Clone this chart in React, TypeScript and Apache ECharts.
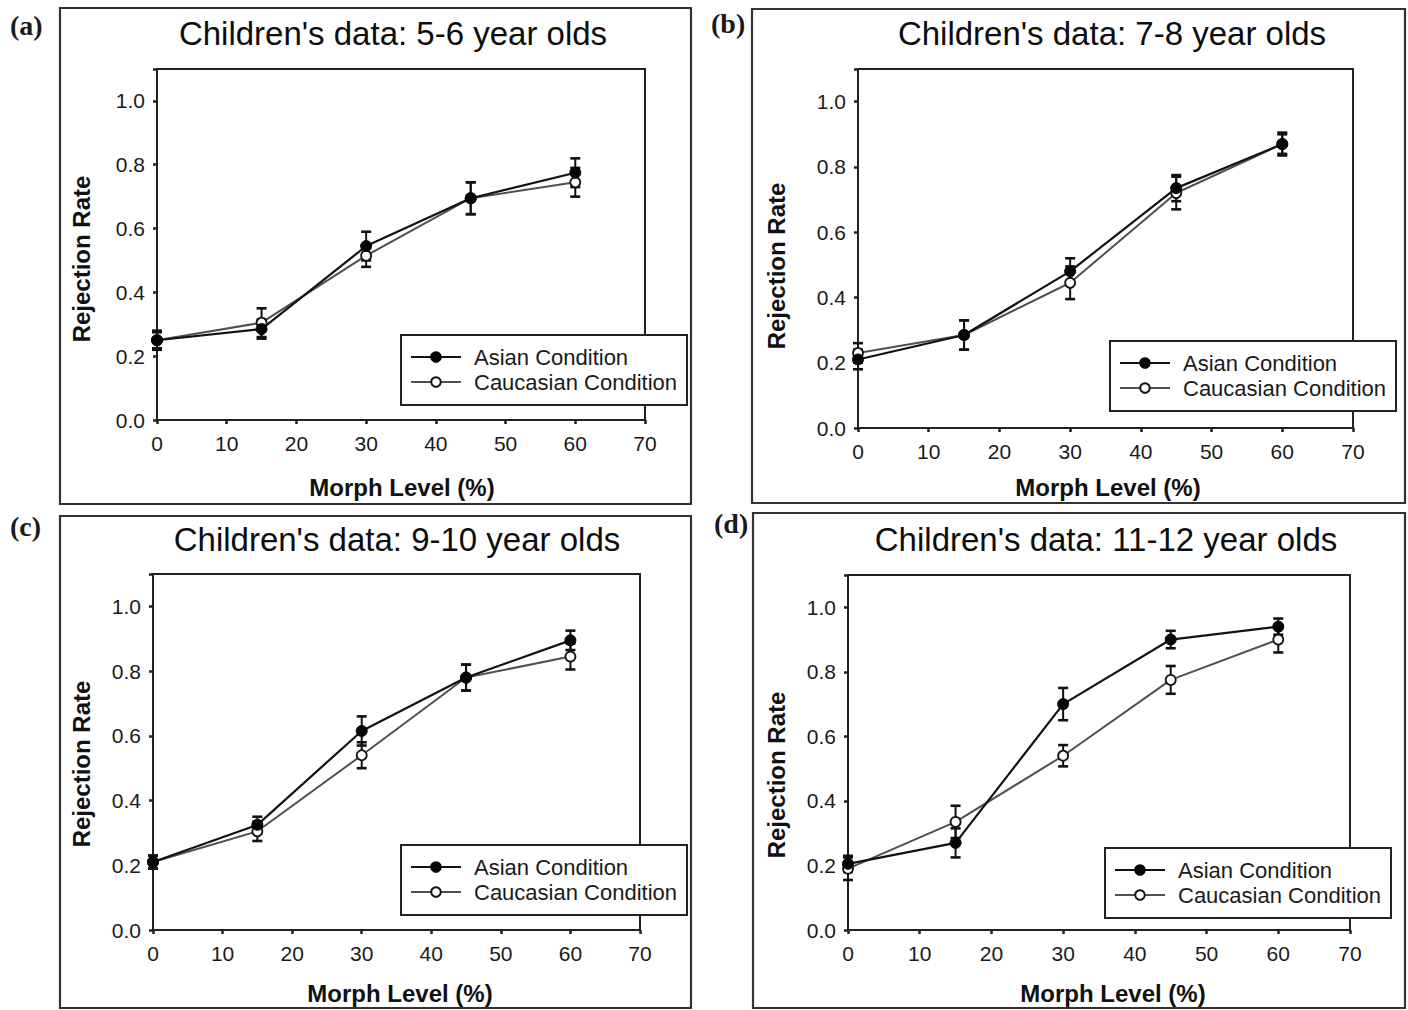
import React, { useEffect, useRef } from "react";
import * as echarts from "echarts";

// ---------- data ----------
const MORPH_LEVELS = [0, 15, 30, 45, 60];
const X_TICKS = [0, 10, 20, 30, 40, 50, 60, 70];
const Y_TICKS = [0.0, 0.2, 0.4, 0.6, 0.8, 1.0];

const TITLES = [
  "Children's data: 5-6 year olds",
  "Children's data: 7-8 year olds",
  "Children's data: 9-10 year olds",
  "Children's data: 11-12 year olds",
];
const PANEL_LABELS = ["(a)", "(b)", "(c)", "(d)"];
const SERIES_NAMES = ["Asian Condition", "Caucasian Condition"];

// (a) 5-6 year olds
const A_ASIAN = [0.25, 0.285, 0.545, 0.695, 0.775];
const A_ASIAN_ERR = [0.03, 0.03, 0.045, 0.05, 0.045];
const A_CAUC = [0.25, 0.305, 0.515, 0.695, 0.745];
const A_CAUC_ERR = [0.025, 0.045, 0.035, 0.05, 0.045];

// (b) 7-8 year olds
const B_ASIAN = [0.21, 0.285, 0.48, 0.735, 0.87];
const B_ASIAN_ERR = [0.03, 0.045, 0.04, 0.04, 0.035];
const B_CAUC = [0.23, 0.285, 0.445, 0.72, 0.87];
const B_CAUC_ERR = [0.03, 0.045, 0.05, 0.05, 0.03];

// (c) 9-10 year olds
const C_ASIAN = [0.21, 0.325, 0.615, 0.78, 0.895];
const C_ASIAN_ERR = [0.02, 0.025, 0.045, 0.04, 0.03];
const C_CAUC = [0.21, 0.305, 0.54, 0.78, 0.845];
const C_CAUC_ERR = [0.02, 0.03, 0.04, 0.04, 0.04];

// (d) 11-12 year olds
const D_ASIAN = [0.205, 0.27, 0.7, 0.9, 0.94];
const D_ASIAN_ERR = [0.025, 0.045, 0.05, 0.027, 0.025];
const D_CAUC = [0.19, 0.335, 0.54, 0.775, 0.9];
const D_CAUC_ERR = [0.035, 0.05, 0.033, 0.043, 0.04];

const PANEL_DATA = [
  { asian: A_ASIAN, asianErr: A_ASIAN_ERR, cauc: A_CAUC, caucErr: A_CAUC_ERR },
  { asian: B_ASIAN, asianErr: B_ASIAN_ERR, cauc: B_CAUC, caucErr: B_CAUC_ERR },
  { asian: C_ASIAN, asianErr: C_ASIAN_ERR, cauc: C_CAUC, caucErr: C_CAUC_ERR },
  { asian: D_ASIAN, asianErr: D_ASIAN_ERR, cauc: D_CAUC, caucErr: D_CAUC_ERR },
];

// ---------- layout ----------
const LAYOUT = [
  {
    frame: { x: 60, y: 8, w: 631, h: 496 },
    grid: { left: 157, top: 69, width: 488, height: 351 },
    label: { x: 10, y: 25 },
    title: { x: 393, y: 33 },
    yName: { x: 81, y: 259 },
    xName: { x: 402, y: 487 },
    legend: { left: 401, top: 335 },
  },
  {
    frame: { x: 752, y: 9, w: 653, h: 494 },
    grid: { left: 858, top: 69, width: 495, height: 359 },
    label: { x: 711, y: 23 },
    title: { x: 1112, y: 33 },
    yName: { x: 776, y: 266 },
    xName: { x: 1108, y: 487 },
    legend: { left: 1110, top: 341 },
  },
  {
    frame: { x: 60, y: 516, w: 631, h: 492 },
    grid: { left: 153, top: 574, width: 487, height: 356 },
    label: { x: 10, y: 526 },
    title: { x: 397, y: 539 },
    yName: { x: 81, y: 764 },
    xName: { x: 400, y: 993 },
    legend: { left: 401, top: 845 },
  },
  {
    frame: { x: 753, y: 513, w: 652, h: 495 },
    grid: { left: 848, top: 575, width: 502, height: 355 },
    label: { x: 714, y: 523 },
    title: { x: 1106, y: 539 },
    yName: { x: 776, y: 775 },
    xName: { x: 1113, y: 993 },
    legend: { left: 1105, top: 848 },
  },
];

const FONT = "'Liberation Sans', Arial, Helvetica, sans-serif";
const ASIAN_COLOR = "#111111";
const CAUC_COLOR = "#505050";
const INK = "#1a1a1a";
const AXIS_COLOR = "#222222";

function errorBarSeries(name: string, idx: number, means: number[], errs: number[], color: string) {
  const data = MORPH_LEVELS.map((x, i) => [x, means[i] - errs[i], means[i] + errs[i]]);
  return {
    type: "custom",
    name,
    xAxisIndex: idx,
    yAxisIndex: idx,
    z: 2,
    silent: true,
    data,
    encode: { x: 0, y: [1, 2] },
    renderItem: (params: any, api: any) => {
      const x = api.value(0);
      const lo = api.coord([x, api.value(1)]);
      const hi = api.coord([x, api.value(2)]);
      const cap = 5;
      const style = { stroke: color, lineWidth: 2 };
      return {
        type: "group",
        children: [
          { type: "line", shape: { x1: lo[0], y1: lo[1], x2: hi[0], y2: hi[1] }, style },
          { type: "line", shape: { x1: hi[0] - cap, y1: hi[1], x2: hi[0] + cap, y2: hi[1] }, style: { stroke: color, lineWidth: 2.6 } },
          { type: "line", shape: { x1: lo[0] - cap, y1: lo[1], x2: lo[0] + cap, y2: lo[1] }, style: { stroke: color, lineWidth: 2.6 } },
        ],
      };
    },
  };
}

function buildOption() {
  const grids: any[] = [];
  const xAxes: any[] = [];
  const yAxes: any[] = [];
  const series: any[] = [];
  const legends: any[] = [];
  const graphics: any[] = [];

  LAYOUT.forEach((L, i) => {
    const d = PANEL_DATA[i];
    grids.push({
      left: L.grid.left,
      top: L.grid.top,
      width: L.grid.width,
      height: L.grid.height,
      show: true,
      borderColor: AXIS_COLOR,
      borderWidth: 2,
      backgroundColor: "transparent",
      containLabel: false,
    });
    xAxes.push({
      type: "value",
      gridIndex: i,
      min: X_TICKS[0],
      max: X_TICKS[X_TICKS.length - 1],
      interval: 10,
      axisLine: { show: true, lineStyle: { color: AXIS_COLOR, width: 2 } },
      axisTick: { show: true, inside: false, length: 4, lineStyle: { color: AXIS_COLOR, width: 2.5 } },
      splitLine: { show: false },
      axisLabel: {
        show: true,
        margin: 13,
        color: INK,
        fontSize: 21,
        fontFamily: FONT,
        formatter: (v: number) => String(v),
      },
    });
    yAxes.push({
      type: "value",
      gridIndex: i,
      min: 0,
      max: 1.1,
      interval: 0.2,
      axisLine: { show: true, lineStyle: { color: AXIS_COLOR, width: 2 } },
      axisTick: { show: true, inside: false, length: 4, lineStyle: { color: AXIS_COLOR, width: 2.5 } },
      splitLine: { show: false },
      axisLabel: {
        show: true,
        margin: 12,
        color: INK,
        fontSize: 21,
        fontFamily: FONT,
        formatter: (v: number) => (Y_TICKS.some((t) => Math.abs(t - v) < 1e-6) ? v.toFixed(1) : ""),
      },
    });

    // error bars (under the lines)
    series.push(errorBarSeries("err-asian-" + i, i, d.asian, d.asianErr, ASIAN_COLOR));
    series.push(errorBarSeries("err-cauc-" + i, i, d.cauc, d.caucErr, ASIAN_COLOR));

    series.push({
      type: "line",
      name: SERIES_NAMES[1],
      xAxisIndex: i,
      yAxisIndex: i,
      z: 3,
      data: MORPH_LEVELS.map((x, k) => [x, d.cauc[k]]),
      symbol: "circle",
      symbolSize: 10,
      showSymbol: true,
      lineStyle: { color: CAUC_COLOR, width: 2 },
      itemStyle: { color: "#ffffff", borderColor: "#151515", borderWidth: 1.8 },
    });
    series.push({
      type: "line",
      name: SERIES_NAMES[0],
      xAxisIndex: i,
      yAxisIndex: i,
      z: 4,
      data: MORPH_LEVELS.map((x, k) => [x, d.asian[k]]),
      symbol: "circle",
      symbolSize: 11,
      showSymbol: true,
      lineStyle: { color: ASIAN_COLOR, width: 2.2 },
      itemStyle: { color: "#050505", borderColor: "#050505", borderWidth: 1 },
    });

    legends.push({
      data: SERIES_NAMES,
      orient: "vertical",
      left: L.legend.left,
      top: L.legend.top,
      itemWidth: 50,
      itemHeight: 12,
      itemGap: 3,
      padding: [11, 10, 12, 9],
      borderColor: AXIS_COLOR,
      borderWidth: 2,
      backgroundColor: "#ffffff",
      selectedMode: false,
      textStyle: { fontSize: 22, color: INK, fontFamily: FONT, padding: [0, 0, 0, 8] },
      z: 10,
    });

    // outer frame
    graphics.push({
      type: "rect",
      shape: { x: L.frame.x, y: L.frame.y, width: L.frame.w, height: L.frame.h },
      style: { fill: "none", stroke: "#333333", lineWidth: 2.2 },
      z: 0,
    });
    // panel label
    graphics.push({
      type: "text",
      x: L.label.x,
      y: L.label.y,
      style: {
        text: PANEL_LABELS[i],
        font: "bold 28px 'Liberation Serif', 'Times New Roman', serif",
        fill: "#1a1a1a",
        textAlign: "left",
        textVerticalAlign: "middle",
      },
    });
    // title
    graphics.push({
      type: "text",
      x: L.title.x,
      y: L.title.y,
      style: {
        text: TITLES[i],
        font: "33px " + FONT,
        fill: "#0d0d0d",
        textAlign: "center",
        textVerticalAlign: "middle",
      },
    });
    // y axis title
    graphics.push({
      type: "text",
      x: L.yName.x,
      y: L.yName.y,
      rotation: Math.PI / 2,
      style: {
        text: "Rejection Rate",
        font: "bold 24px " + FONT,
        fill: "#111",
        textAlign: "center",
        textVerticalAlign: "middle",
      },
    });
    // x axis title
    graphics.push({
      type: "text",
      x: L.xName.x,
      y: L.xName.y,
      style: {
        text: "Morph Level (%)",
        font: "bold 24px " + FONT,
        fill: "#111",
        textAlign: "center",
        textVerticalAlign: "middle",
      },
    });
  });

  return {
    animation: false,
    backgroundColor: "#ffffff",
    grid: grids,
    xAxis: xAxes,
    yAxis: yAxes,
    legend: legends,
    series,
    graphic: graphics,
  };
}

export default function App() {
  const ref = useRef<HTMLDivElement>(null);
  useEffect(() => {
    document.body.style.margin = "0";
    if (!ref.current) return;
    const chart = echarts.init(ref.current, null, { renderer: "svg" });
    chart.setOption(buildOption() as any);
    return () => chart.dispose();
  }, []);
  return <div ref={ref} style={{ width: 1408, height: 1010, background: "#fff" }} />;
}
